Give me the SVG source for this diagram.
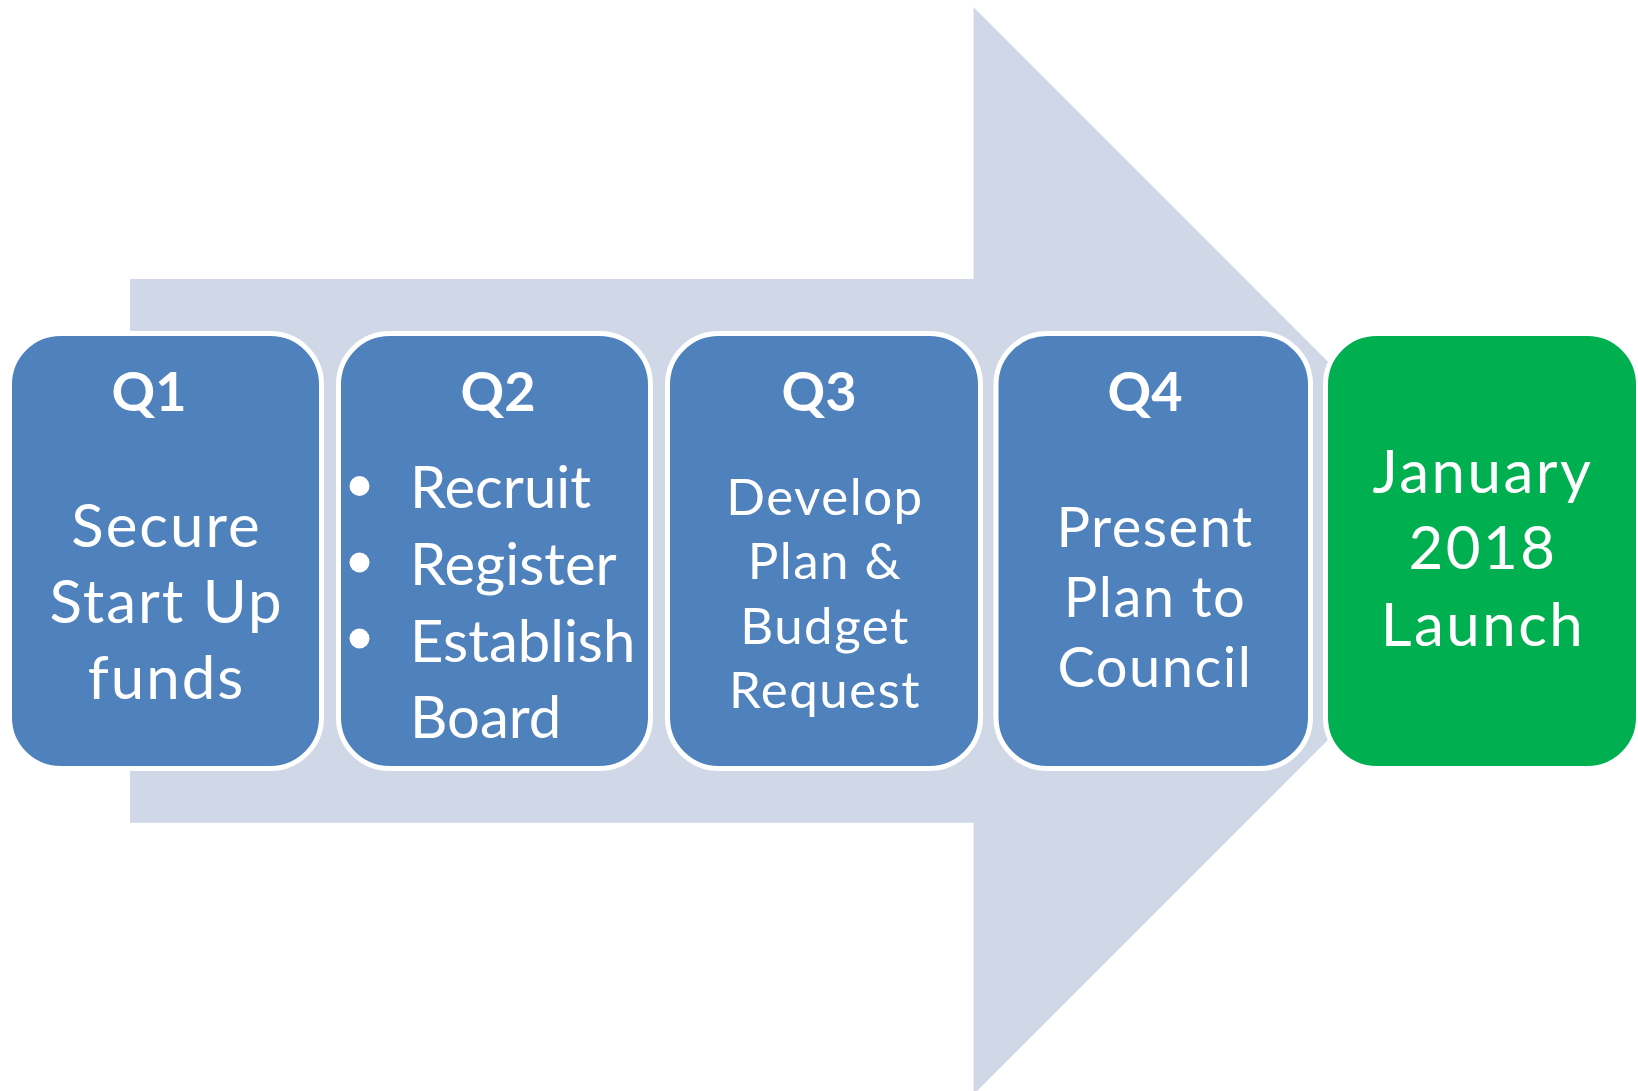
<svg xmlns="http://www.w3.org/2000/svg" width="1638" height="1091" viewBox="0 0 1638 1091">
<style>
.box{fill:#4F81BD;stroke:#FFFFFF;stroke-width:5}
.green{fill:#00B050;stroke:#FFFFFF;stroke-width:5}
.t{font-family:Lato,"Open Sans","Liberation Sans",sans-serif;fill:#FFFFFF;text-anchor:middle}
.q{font-weight:bold;font-size:54px}
.l{text-anchor:start}
</style>
<rect width="1638" height="1091" fill="#FFFFFF"/>
<g id="arrow">
<polygon points="130,279 973.5,279 973.5,7 1517,550.8 973.5,1094.6 973.5,822.7 130,822.7" fill="#D0D8E8"/>
</g>
<g id="connectors"></g>
<g id="q1">
<rect class="box" x="9.5" y="333.5" width="312" height="435" rx="51"/>
<text class="t q" x="149" y="410.5">Q1</text>
<text class="t" font-size="60" letter-spacing="2"><tspan x="166.5" y="547">Secure</tspan><tspan x="166.5" y="623">Start Up</tspan><tspan x="166.5" y="699">funds</tspan></text>
</g>
<g id="q2">
<rect class="box" x="338.5" y="333.5" width="312" height="435" rx="51"/>
<text class="t q" x="498" y="410.5">Q2</text>
<circle cx="359.5" cy="486" r="10" fill="#FFFFFF"/>
<circle cx="359.5" cy="562.5" r="10" fill="#FFFFFF"/>
<circle cx="359.5" cy="638.5" r="10" fill="#FFFFFF"/>
<text class="t l" font-size="58"><tspan x="410" y="508.3">Recruit</tspan><tspan x="410" y="585">Register</tspan><tspan x="410" y="661.7">Establish</tspan><tspan x="410" y="738.3">Board</tspan></text>
</g>
<g id="q3">
<rect class="box" x="667.5" y="333.5" width="313" height="435" rx="51"/>
<text class="t q" x="819" y="410.5">Q3</text>
<text class="t" font-size="51" letter-spacing="1.5"><tspan x="825" y="515">Develop</tspan><tspan x="825" y="579.3">Plan &amp;</tspan><tspan x="825" y="643.5">Budget</tspan><tspan x="825" y="708.3">Request</tspan></text>
</g>
<g id="q4">
<rect class="box" x="996" y="333.5" width="314.5" height="435" rx="51"/>
<text class="t q" x="1145" y="410.5">Q4</text>
<text class="t" font-size="56" letter-spacing="1.5"><tspan x="1155" y="546.7">Present</tspan><tspan x="1155" y="616.7">Plan to</tspan><tspan x="1155" y="686.7">Council</tspan></text>
</g>
<g id="launch">
<rect class="green" x="1325.5" y="333.5" width="313" height="435" rx="51"/>
<text class="t" font-size="60" letter-spacing="2.5"><tspan x="1483" y="493.3">January</tspan><tspan x="1483" y="569.3">2018</tspan><tspan x="1483" y="646">Launch</tspan></text>
</g>
</svg>
